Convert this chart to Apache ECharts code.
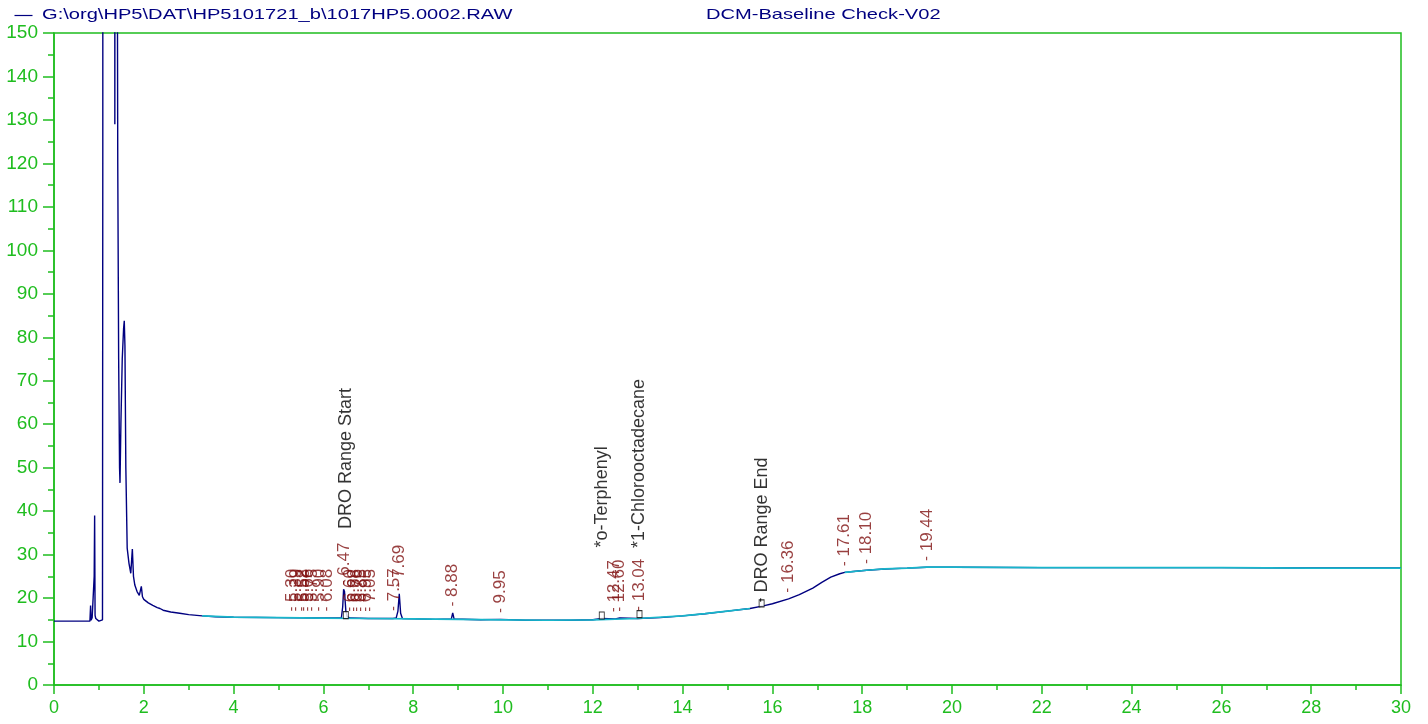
<!DOCTYPE html>
<html>
<head>
<meta charset="utf-8">
<script src="https://cdn.jsdelivr.net/npm/echarts@6/dist/echarts.min.js"></script>
<style>html,body{margin:0;padding:0;background:#fff}#c{width:1428px;height:724px}</style>
</head>
<body>
<div id="c"></div>
<script>
// ---- data ----
const fileName = 'G:\\org\\HP5\\DAT\\HP5101721_b\\1017HP5.0002.RAW';
const methodName = 'DCM-Baseline Check-V02';

// retention time (min) and detector signal
const signalTime = [0, 0.80, 0.815, 0.825, 0.835, 0.85, 0.88, 0.895, 0.905, 0.915, 0.93, 0.95, 0.97, 1.0, 1.04, 1.08, 1.087, 1.09,
  1.2, 1.3, 1.345, 1.355, 1.365, 1.405, 1.42, 1.44, 1.46, 1.47, 1.49, 1.52, 1.55, 1.565, 1.58, 1.6, 1.63, 1.67, 1.71, 1.745, 1.77, 1.8, 1.85, 1.9,
  1.945, 1.97, 2.0, 2.1, 2.2, 2.3, 2.36, 2.38, 2.43, 2.6, 2.8, 3.0, 3.3, 3.6, 4.0, 5.0, 6.0, 6.40, 6.43, 6.45, 6.47, 6.50, 6.53, 6.6,
  7.0, 7.55, 7.57, 7.62, 7.66, 7.69, 7.72, 7.76, 8.5, 8.85, 8.88, 8.91, 9.5, 9.95, 10.5, 11.5, 12.0, 12.2, 12.5, 12.6, 13.0, 13.04,
  13.5, 14.0, 14.5, 15.0, 15.5, 15.8, 16.0, 16.36, 16.6, 16.9, 17.1, 17.3, 17.5, 17.61, 17.8, 18.1, 18.5, 19.0, 19.44, 20.0, 22.0,
  24.0, 26.0, 28.0, 30.0];
const signalValue = [14.7, 14.7, 18.3, 14.9, 14.7, 15.5, 15.2, 25, 39.0, 16, 15.3, 14.9, 15.3, 14.7, 14.9, 15.0, 124, 400,
  400, 400, 400, 129, 400, 400, 120, 75, 50, 46.5, 60, 75, 82, 83.8, 78, 50, 31.5, 28, 25.7, 31.3, 25, 23, 21.5, 20.6,
  22.7, 20.3, 19.7, 18.9, 18.3, 17.8, 17.6, 17.9, 17.2, 16.8, 16.5, 16.2, 15.9, 15.7, 15.6, 15.5, 15.4, 15.4, 18, 22, 21.5, 17, 15.7, 15.4,
  15.3, 15.3, 15.6, 15.4, 17, 21, 16.5, 15.3, 15.1, 15.2, 16.6, 15.2, 15.0, 15.1, 14.9, 14.9, 15.0, 15.3, 15.2, 15.4, 15.3, 15.6,
  15.5, 15.9, 16.4, 17.0, 17.6, 18.2, 18.7, 19.8, 20.8, 22.3, 23.6, 24.8, 25.6, 25.9, 26.1, 26.4, 26.7, 26.9, 27.1, 27.1, 27.0,
  27.0, 27.0, 26.9, 26.9];

// integration baseline (two segments)
const baseTime = [3.3, 4.0, 5.0, 6.0, 7.0, 8.0, 9.0, 10.0, 11.0, 12.0, 13.0, 14.0, 14.5, 15.0, 15.5, null, 17.61, 18.1, 18.5, 19.0, 19.44, 20.0, 22.0, 24.0, 26.0, 28.0, 30.0];
const baseValue = [15.9, 15.6, 15.5, 15.4, 15.3, 15.2, 15.1, 15.0, 14.9, 15.0, 15.3, 15.9, 16.4, 17.0, 17.6, null, 25.9, 26.4, 26.7, 26.9, 27.1, 27.1, 27.0, 27.0, 27.0, 26.9, 26.9];

// peak retention time labels
const peakTimes = [5.30, 5.39, 5.52, 5.58, 5.66, 5.75, 5.90, 6.08, 6.47, 6.60, 6.68, 6.76, 6.85, 6.95, 7.05, 7.57, 7.69, 8.88, 9.95, 12.47, 12.60, 13.04, 16.36, 17.61, 18.10, 19.44];
const peakHeights = [15.45, 15.45, 15.45, 15.45, 15.45, 15.45, 15.45, 15.45, 21.5, 15.4, 15.4, 15.4, 15.4, 15.4, 15.4, 15.6, 21, 16.6, 15.1, 15.3, 15.4, 15.6, 19.8, 25.9, 26.4, 27.1];

// named compounds / range markers
const compoundNames = ['DRO Range Start', '*o-Terphenyl', '*1-Chlorooctadecane', 'DRO Range End'];
const compoundTimes = [6.50, 12.20, 13.04, 15.76];
const compoundHeights = [15.4, 15.3, 15.6, 18.1];

// axis ticks
const xMin = 0, xMax = 30, xStep = 2;
const yMin = 0, yMax = 150, yStep = 10;

// ---- chart ----
const GREEN = '#1fbd1f';
const NAVY = '#000080';
const RED = '#801010';
const FONT = 'Liberation Sans, Arial, sans-serif';

const signalData = signalTime.map((t, i) => [t, signalValue[i]]);
const baseData = baseTime.map((t, i) => (t === null ? [null, null] : [t, baseValue[i]]));
const peakData = peakTimes.map((t, i) => ({ value: [t, peakHeights[i]], name: t.toFixed(2) }));
const compoundDist = [82, 64, 62, -3];
const compoundData = compoundNames.map((n, i) => ({
  value: [compoundTimes[i], compoundHeights[i]], name: n,
  label: { distance: compoundDist[i], formatter: i === 3 ? '{d|-} ' + n : n }
}));

const chart = echarts.init(document.getElementById('c'), null, { renderer: 'canvas' });
chart.setOption({
  animation: false,
  backgroundColor: '#fff',
  graphic: [
    { type: 'line', left: 12, top: 13, shape: { x1: 0, y1: 0, x2: 18, y2: 0 }, style: { stroke: NAVY, lineWidth: 1.2 } },
    { type: 'text', x: 42, y: 7, scaleX: 1.34, style: { text: fileName, fill: NAVY, font: '15px ' + FONT } },
    { type: 'text', x: 706, y: 7, scaleX: 1.34, style: { text: methodName, fill: NAVY, font: '15px ' + FONT } }
  ],
  grid: {
    left: 54, right: 27, top: 33, bottom: 39, outerBoundsMode: 'none',
    show: true, borderColor: GREEN, borderWidth: 1.5, backgroundColor: 'transparent'
  },
  xAxis: {
    type: 'value', min: xMin, max: xMax, interval: xStep,
    axisLine: { show: true, onZero: false, lineStyle: { color: GREEN, width: 1.5 } },
    axisTick: { show: true, length: 9, lineStyle: { color: GREEN, width: 1.5 } },
    minorTick: { show: true, splitNumber: 2, length: 5, lineStyle: { color: GREEN, width: 1.5 } },
    splitLine: { show: false },
    axisLabel: { color: GREEN, fontSize: 18, fontFamily: FONT, margin: 14 }
  },
  yAxis: {
    type: 'value', min: yMin, max: yMax, interval: yStep,
    axisLine: { show: true, onZero: false, lineStyle: { color: GREEN, width: 1.5 } },
    axisTick: { show: true, length: 11, lineStyle: { color: GREEN, width: 1.5 } },
    minorTick: { show: true, splitNumber: 2, length: 6, lineStyle: { color: GREEN, width: 1.5 } },
    splitLine: { show: false },
    axisLabel: { color: GREEN, fontSize: 19, fontFamily: FONT, margin: 16 }
  },
  series: [
    {
      name: fileName, type: 'line', data: signalData, showSymbol: false, symbol: 'none',
      lineStyle: { color: NAVY, width: 1.4 }, itemStyle: { color: NAVY }, clip: true, z: 2
    },
    {
      name: 'baseline', type: 'line', data: baseData, showSymbol: false, symbol: 'none', connectNulls: false,
      lineStyle: { color: '#17b6cb', width: 1.7 }, clip: true, z: 3
    },
    {
      name: 'peaks', type: 'scatter', data: peakData, symbolSize: 1,
      itemStyle: { color: 'rgba(0,0,0,0)' }, z: 4,
      label: {
        show: true, position: 'top', distance: 6, rotate: 90, align: 'left', verticalAlign: 'middle',
        formatter: p => '{d|-} ' + p.name,
        color: RED, fontSize: 17, fontFamily: FONT,
        rich: { d: { fontSize: 14, color: RED, fontFamily: FONT } }
      }
    },
    {
      name: 'compounds', type: 'scatter', data: compoundData, symbol: 'rect', symbolSize: [5, 7], symbolOffset: [0, -3],
      itemStyle: { color: '#fff', borderColor: '#000', borderWidth: 1 }, z: 5,
      label: {
        show: true, position: 'top', rotate: 90, align: 'left', verticalAlign: 'middle',
        color: '#000', fontSize: 18, fontFamily: FONT,
        rich: { d: { fontSize: 14, color: '#000', fontFamily: FONT } }
      }
    }
  ]
});
</script>
</body>
</html>
